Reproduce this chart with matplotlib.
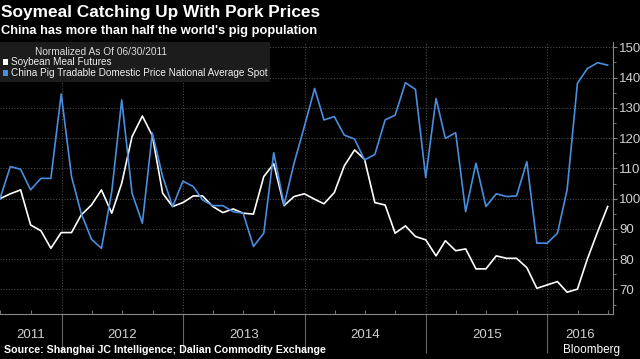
import matplotlib
matplotlib.use("Agg")
import matplotlib.pyplot as plt
import matplotlib.dates as mdates
import pandas as pd

# monthly values, normalized to 100 at 06/30/2011
dates = pd.date_range("2011-06-30", "2016-06-30", freq="ME")
soymeal = [100, 101.6, 102.9, 91.3, 89.4, 83.6, 88.8, 88.8, 94.6, 97.9,
           102.9, 95.2, 105.1, 120.5, 127.3, 120.8, 101.8, 97.4, 98.7, 100.9,
           100.9, 97.4, 95.4, 96.6, 95.2, 94.9, 107.3, 111.5, 97.7, 100.7,
           101.6, 99.8, 98.3, 102.0, 110.8, 116.1, 113.0, 98.7, 97.9, 88.6,
           91.0, 87.5, 86.4, 81.1, 86.1, 82.8, 83.4, 76.8, 76.8, 81.1,
           80.3, 80.3, 77.2, 70.4, 71.5, 72.6, 69.1, 70.1, 80.1, 89.1, 97.4]
pork = [100, 110.6, 109.7, 102.9, 106.7, 106.7, 134.6, 107.3, 95.2, 86.6,
        83.6, 102.3, 132.6, 101.8, 91.9, 121.7, 107.3, 97.4, 105.8, 104.0,
        99.6, 97.7, 97.7, 95.7, 95.2, 84.2, 88.6, 115.2, 97.9, 111.7,
        123.8, 136.4, 126.0, 127.1, 121.0, 119.7, 112.8, 114.6, 126.0, 127.6,
        138.3, 136.1, 107.0, 133.1, 119.9, 121.8, 95.7, 111.7, 97.4, 101.6,
        100.7, 100.9, 112.2, 85.3, 85.3, 88.6, 102.9, 138.1, 143.0, 144.9, 144.1]
years = [2011, 2012, 2013, 2014, 2015, 2016]

title = "Soymeal Catching Up With Pork Prices"
subtitle = "China has more than half the world's pig population"
source = "Source: Shanghai JC Intelligence; Dalian Commodity Exchange"

plt.rcParams["font.family"] = ["Liberation Sans", "DejaVu Sans"]

W, H = 640, 359
fig = plt.figure(figsize=(W / 100, H / 100), dpi=100, facecolor="black")
ax = fig.add_axes([0, (H - 314) / H, 613 / W, 272 / H], facecolor="black")

x0 = pd.Timestamp("2011-06-30")
x1 = pd.Timestamp("2016-07-16")
ax.set_xlim(x0, x1)
ax.set_ylim(61.9, 151.75)

ax.plot(dates, soymeal, color="white", lw=1.2, zorder=3)
ax.plot(dates, pork, color="#4a8ee0", lw=1.2, zorder=3)

# axes styling
for s in ["left", "top"]:
    ax.spines[s].set_visible(False)
ax.spines["right"].set_color("#888888")
ax.spines["bottom"].set_color("#888888")
ax.yaxis.tick_right()
ax.set_yticks(range(70, 151, 10))
ax.set_yticks(range(65, 151, 5), minor=True)
ax.tick_params(axis="y", which="both", colors="#888888", labelcolor="#d0d0d0",
               labelsize=9.5, direction="out", length=3, pad=1.5)
ax.tick_params(axis="y", which="minor", length=2)
ax.grid(axis="y", color="#4a4a4a", linestyle=(0, (1, 1.5)), lw=0.8)

year_starts = [pd.Timestamp(f"{y}-01-01") for y in years[1:]]
ax.set_xticks(year_starts)
ax.set_xticklabels([])
ax.xaxis.set_minor_locator(mdates.MonthLocator(bymonth=[1, 4, 7, 10]))
ax.tick_params(axis="x", which="major", direction="out", length=28,
               color="#666666", width=0.8)
ax.tick_params(axis="x", which="minor", direction="in", length=3,
               color="#888888")
for d in year_starts:
    ax.axvline(d, color="#4a4a4a", linestyle=(0, (1, 1.5)), lw=0.8, zorder=1)

# year labels centered in visible spans
for y in years:
    a = max(pd.Timestamp(f"{y}-01-01"), x0)
    b = min(pd.Timestamp(f"{y + 1}-01-01"), x1)
    mid = a + (b - a) / 2
    ax.text(mid, -0.077, str(y), transform=ax.get_xaxis_transform(),
            ha="center", va="center", color="#d0d0d0", fontsize=9.5)

# legend box
fig.patches.append(plt.Rectangle((0, 1 - 82 / H), 270 / W, 40 / H,
                                 transform=fig.transFigure,
                                 facecolor="#1c1c1c", edgecolor="none",
                                 zorder=4))
fig.text(101 / W, 1 - 52 / H, "Normalized As Of 06/30/2011", ha="center",
         va="center", color="#dddddd", fontsize=7.3, zorder=5)
fig.patches.append(plt.Rectangle((3 / W, 1 - 65 / H), 5 / W, 6 / H,
                                 transform=fig.transFigure, facecolor="white",
                                 zorder=5))
fig.text(11 / W, 1 - 62 / H, "Soybean Meal Futures", ha="left", va="center",
         color="#eeeeee", fontsize=7.2, zorder=5)
fig.patches.append(plt.Rectangle((3 / W, 1 - 76 / H), 5 / W, 6 / H,
                                 transform=fig.transFigure,
                                 facecolor="#4a8ee0", zorder=5))
fig.text(11 / W, 1 - 73 / H, "China Pig Tradable Domestic Price National Average Spot",
         ha="left", va="center", color="#eeeeee", fontsize=7.2, zorder=5)

# titles and footer
fig.text(1 / W, 1 - 13 / H, title, ha="left", va="center", color="white",
         fontsize=12.4, fontweight="bold")
fig.text(1 / W, 1 - 31 / H, subtitle, ha="left", va="center", color="white",
         fontsize=9.3, fontweight="bold")
fig.text(4 / W, 1 - 350 / H, source, ha="left", va="center", color="white",
         fontsize=7.7, fontweight="bold")
fig.text(620 / W, 1 - 350 / H, "Bloomberg", ha="right", va="center",
         color="white", fontsize=8.5)

fig.savefig("out.png", dpi=100, facecolor="black")
